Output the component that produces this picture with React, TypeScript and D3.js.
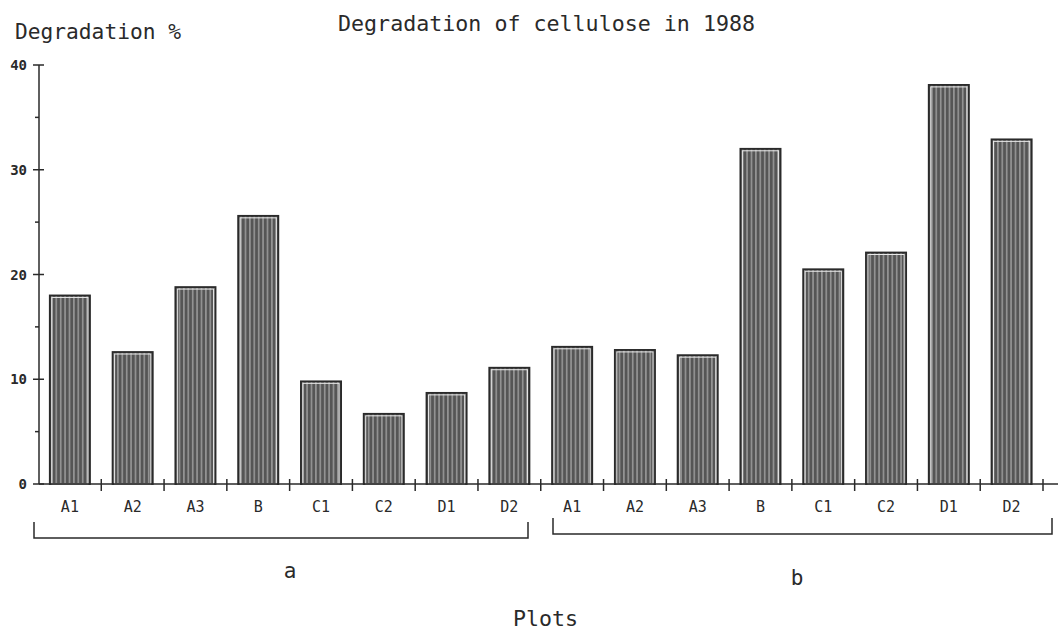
import React from "react";
import * as d3 from "d3";

const plots = ["A1", "A2", "A3", "B", "C1", "C2", "D1", "D2"];
const groups = ["a", "b"];
const valuesA = [18.0, 12.6, 18.8, 25.6, 9.8, 6.7, 8.7, 11.1];
const valuesB = [13.1, 12.8, 12.3, 32.0, 20.5, 22.1, 38.1, 32.9];
const yTicks = [0, 10, 20, 30, 40];
const yMinorTicks = [5, 15, 25, 35];

const W = 1058;
const H = 634;
const INK = "#2a2a2a";
const FONT = "'DejaVu Sans Mono', 'Liberation Mono', monospace";

export default function App() {
  const bars = [
    ...valuesA.map((v, i) => ({ group: groups[0], plot: plots[i], value: v })),
    ...valuesB.map((v, i) => ({ group: groups[1], plot: plots[i], value: v })),
  ];
  const x = d3
    .scaleBand<number>()
    .domain(d3.range(bars.length))
    .range([38.5, 1043])
    .paddingInner(0.36)
    .paddingOuter(0.18);
  const y = d3.scaleLinear().domain([0, 40]).range([484, 65]);
  const step = x.step();
  const x0 = 38.5;
  const boundaries = d3.range(1, bars.length + 1).map((i) => x0 + i * step);

  const brackets = [
    { label: groups[0], x1: 34, x2: 528, yTop: 522, yBot: 538, lx: 290, ly: 578 },
    { label: groups[1], x1: 553, x2: 1052, yTop: 518, yBot: 534, lx: 797, ly: 585 },
  ];

  return (
    <svg
      width={W}
      height={H}
      style={{ position: "absolute", left: 0, top: 0, background: "#fff" }}
    >
      <defs>
        <pattern id="stripes" width="4.4" height="10" patternUnits="userSpaceOnUse">
          <rect width="4.4" height="10" fill="#555" />
          <rect x="3" width="1" height="10" fill="#bdbdbd" />
        </pattern>
      </defs>

      {/* titles */}
      <text x={338} y={31} fontFamily={FONT} fontSize={21} fill={INK} textLength={417} lengthAdjust="spacingAndGlyphs">
        Degradation of cellulose in 1988
      </text>
      <text x={15} y={39} fontFamily={FONT} fontSize={21} fill={INK} textLength={166} lengthAdjust="spacingAndGlyphs">
        Degradation %
      </text>

      {/* bars */}
      {bars.map((b, i) => {
        const bx = x(i)!;
        const bw = x.bandwidth();
        const top = y(b.value);
        const h = y(0) - top;
        return (
          <g key={i}>
            <rect x={bx} y={top} width={bw} height={h} fill="url(#stripes)" stroke={INK} strokeWidth={1.8} />
            <rect x={bx + 2} y={top + 2} width={bw - 4} height={h - 2} fill="none" stroke="#e8e8e8" strokeWidth={1} />
          </g>
        );
      })}

      {/* y axis */}
      <line x1={39} x2={39} y1={y(40)} y2={y(0)} stroke={INK} strokeWidth={1.5} />
      {yTicks.map((t) => (
        <g key={t}>
          <line x1={33} x2={44} y1={y(t)} y2={y(t)} stroke={INK} strokeWidth={1.5} />
          <text x={27} y={y(t) + 5} textAnchor="end" fontFamily={FONT} fontSize={14} fontWeight="bold" fill={INK}>
            {t}
          </text>
        </g>
      ))}
      {yMinorTicks.map((t) => (
        <line key={t} x1={35} x2={39} y1={y(t)} y2={y(t)} stroke={INK} strokeWidth={1.5} />
      ))}

      {/* x axis */}
      <line x1={39} x2={1058} y1={y(0)} y2={y(0)} stroke={INK} strokeWidth={1.5} />
      {boundaries.map((bx, i) => (
        <line key={i} x1={bx} x2={bx} y1={y(0) - 5} y2={y(0) + 7} stroke={INK} strokeWidth={1.5} />
      ))}
      {bars.map((b, i) => (
        <text
          key={i}
          x={x(i)! + x.bandwidth() / 2}
          y={512}
          textAnchor="middle"
          fontFamily={FONT}
          fontSize={15}
          fill={INK}
        >
          {b.plot}
        </text>
      ))}

      {/* group brackets */}
      {brackets.map((br) => (
        <g key={br.label}>
          <path
            d={`M${br.x1},${br.yTop} L${br.x1},${br.yBot} L${br.x2},${br.yBot} L${br.x2},${br.yTop}`}
            fill="none"
            stroke={INK}
            strokeWidth={1.5}
          />
          <text x={br.lx} y={br.ly} textAnchor="middle" fontFamily={FONT} fontSize={21} fill={INK}>
            {br.label}
          </text>
        </g>
      ))}

      <text x={513} y={626} fontFamily={FONT} fontSize={21} fill={INK} textLength={65} lengthAdjust="spacingAndGlyphs">
        Plots
      </text>
    </svg>
  );
}
